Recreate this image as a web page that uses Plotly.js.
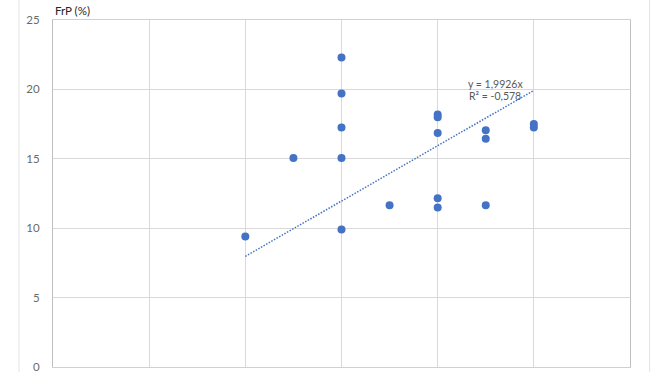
<!DOCTYPE html>
<html>
<head>
<meta charset="utf-8">
<script src="https://cdn.plot.ly/plotly-3.0.1.min.js"></script>
<style>html,body{margin:0;padding:0;background:#fff;}#chart{width:672px;height:372px;}</style>
</head>
<body>
<div id="chart"></div>
<script>
// Data
var xValues = [4, 5, 6, 6, 6, 6, 6, 7, 8, 8, 8, 8, 8, 9, 9, 9, 10, 10];
var yValues = [9.4, 15.05, 22.3, 19.7, 17.25, 15.05, 9.9, 11.65, 18.2, 18.0, 16.85, 12.15, 11.5, 17.05, 16.45, 11.65, 17.5, 17.25];
var trendSlope = 1.9926;
var trendLabel = "y = 1,9926x";
var r2Label = "R² = -0,578";
var yTitle = "FrP (%)";
var yTicks = [0, 5, 10, 15, 20, 25];

var xMin = Math.min.apply(null, xValues);
var xMax = Math.max.apply(null, xValues);
var trendX = [xMin, xMax];
var trendY = trendX.map(function (v) { return trendSlope * v; });

var blue = '#4472C4';
var data = [
  {
    x: trendX, y: trendY, type: 'scatter', mode: 'lines',
    line: {color: blue, width: 1.5, dash: '1.5px,1.5px'}, hoverinfo: 'skip', showlegend: false
  },
  {
    x: xValues, y: yValues, type: 'scatter', mode: 'markers',
    marker: {color: blue, size: 8}, showlegend: false
  }
];

var layout = {
  width: 672, height: 372,
  margin: {l: 53, r: 42, t: 20, b: 5},
  paper_bgcolor: '#ffffff', plot_bgcolor: '#ffffff',
  font: {family: 'Lato, "Open Sans", sans-serif', color: '#595959', size: 11},
  showlegend: false,
  xaxis: {
    range: [0, 12], dtick: 2, tick0: 0,
    showgrid: true, gridcolor: '#d9d9d9', gridwidth: 1,
    showticklabels: false, zeroline: false, ticks: '',
    showline: true, linecolor: '#d0d0d0', linewidth: 1, mirror: true
  },
  yaxis: {
    range: [0, 25], tickvals: yTicks, ticktext: yTicks.map(String),
    showgrid: true, gridcolor: '#d9d9d9', gridwidth: 1,
    zeroline: false, ticks: '', ticklabelstandoff: 10, ticklabeloverflow: 'allow',
    tickfont: {size: 11.5, color: '#6a6a6a'},
    showline: true, linecolor: '#bfbfbf', linewidth: 1, mirror: true
  },
  shapes: [
    {type: 'line', xref: 'paper', yref: 'paper', x0: -0.059, x1: -0.059, y0: -0.1, y1: 1.1,
     line: {color: '#e3e3e3', width: 1}},
    {type: 'line', xref: 'paper', yref: 'paper', x0: 1.034, x1: 1.034, y0: -0.1, y1: 1.1,
     line: {color: '#e3e3e3', width: 1}}
  ],
  annotations: [
    {xref: 'paper', yref: 'paper', x: 0, y: 1, xanchor: 'left', yanchor: 'bottom', yshift: 1,
     text: yTitle, showarrow: false, font: {size: 11.5, color: '#262626'}},
    {xref: 'x', yref: 'y', x: 9.2, y: 20.4, xanchor: 'center', yanchor: 'middle',
     text: trendLabel, showarrow: false, font: {size: 10.5, color: '#595959'}},
    {xref: 'x', yref: 'y', x: 9.2, y: 19.55, xanchor: 'center', yanchor: 'middle',
     text: r2Label, showarrow: false, font: {size: 10.5, color: '#595959'}}
  ]
};

Plotly.newPlot('chart', data, layout, {displayModeBar: false, staticPlot: true});
</script>
</body>
</html>
